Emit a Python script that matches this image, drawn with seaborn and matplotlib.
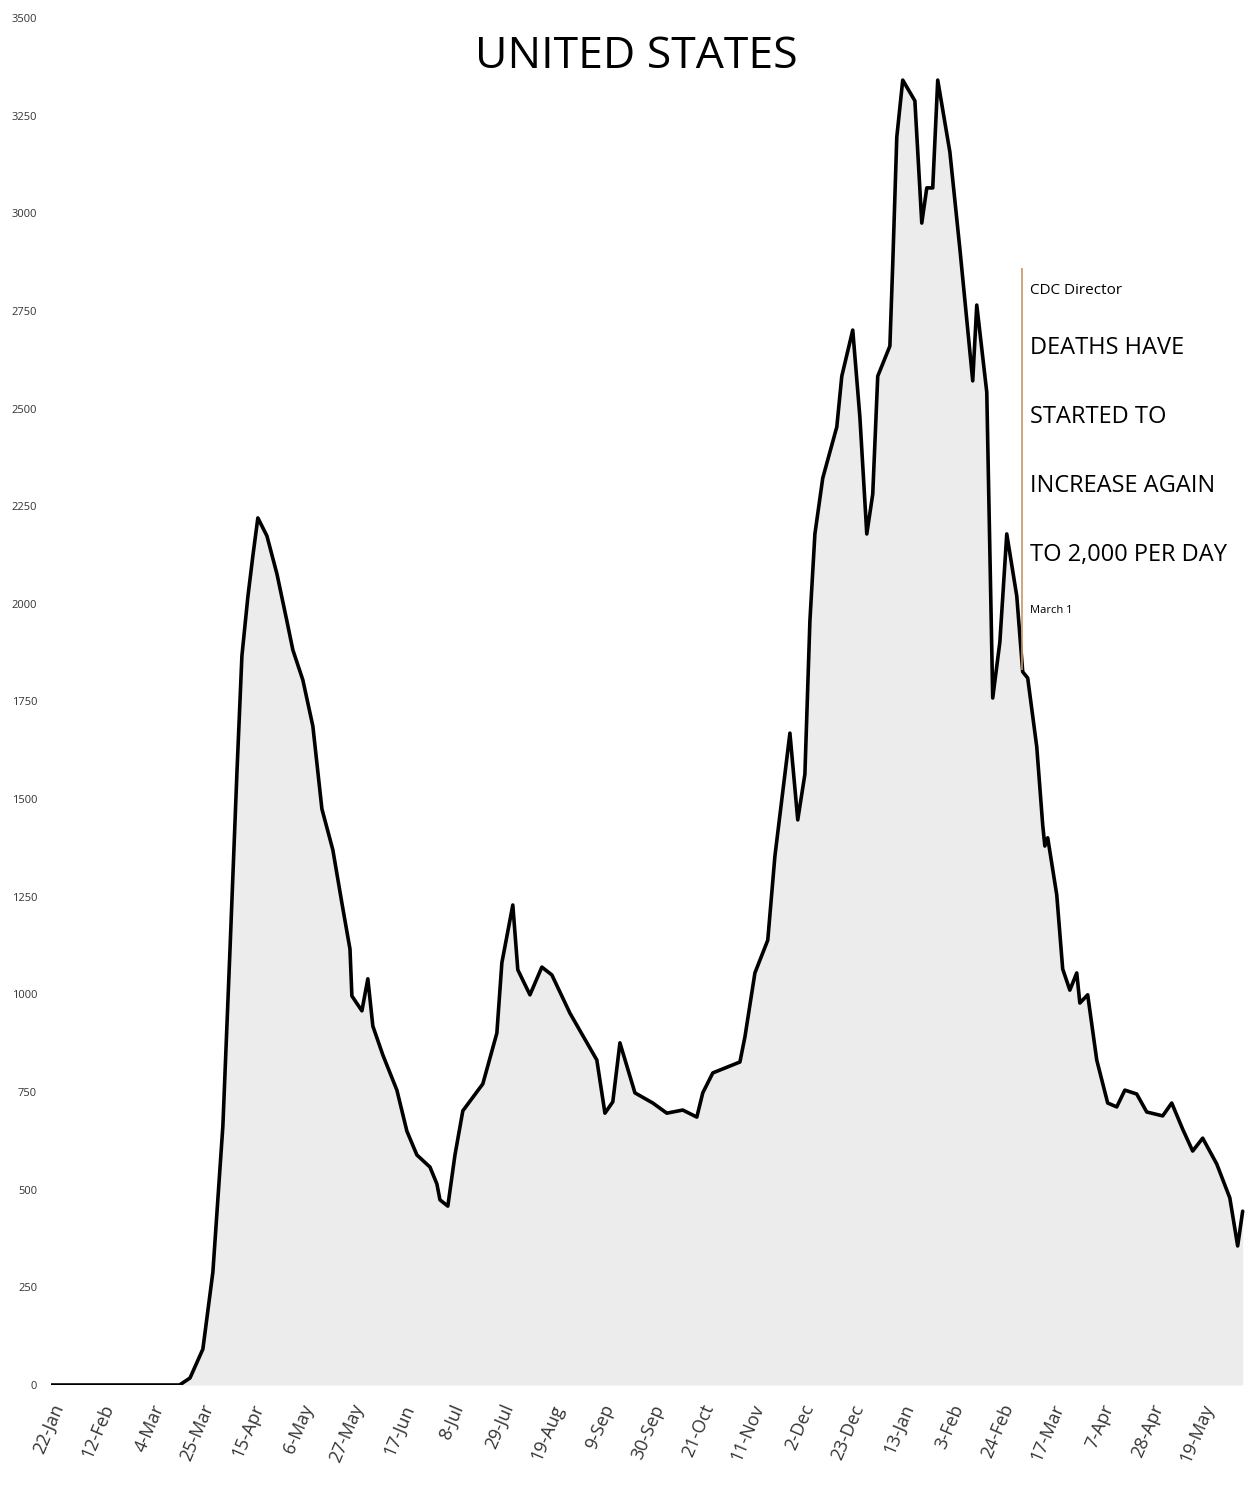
import matplotlib
matplotlib.use("Agg")
import matplotlib.pyplot as plt
import seaborn as sns
import pandas as pd

# daily deaths (7-day avg): days after 22-Jan-2020 / deaths
start = pd.Timestamp("2020-01-22")
day = [0, 50, 54, 58.4, 63.8, 68.0, 72.2, 75.2, 78.1, 80.2, 82.7, 84.8, 86.9,
       90.7, 94.9, 99.1, 101.6, 105.8, 110.0, 113.8, 118.4, 122.2, 125.6, 126.4,
       130.6, 133.1, 135.2, 139.4, 145.3, 149.5, 153.7, 159.2, 162.1, 163.4,
       166.7, 169.7, 173.0, 181.4, 187.3, 189.4, 194.0, 196.1, 201.2, 206.2,
       210.4, 218.0, 229.3, 232.7, 236.0, 239.0, 245.3, 252.8, 258.7, 265.4,
       271.3, 273.8, 278.0, 289.4, 291.5, 295.7, 301.1, 304.1, 310.4, 313.7,
       316.7, 318.8, 320.9, 324.2, 330.1, 332.2, 336.8, 339.8, 342.7, 345.2,
       347.3, 352.4, 353.6, 355.3, 357.8, 362.9, 365.8, 367.9, 370.4, 372.5,
       377.6, 381.8, 387.2, 388.9, 393.1, 395.6, 398.6, 401.5, 405.7, 408.2,
       410.3, 414.1, 416.6, 417.5, 418.7, 422.5, 425.0, 428.0, 430.9, 432.2,
       435.5, 439.3, 443.9, 447.7, 451.1, 456.1, 460.3, 467.0, 470.8, 475.4,
       479.6, 483.8, 489.7, 495.2, 498.5, 500.6]
deaths = [0, 0, 0, 18, 92, 289, 663, 1116, 1567, 1867, 2018, 2123, 2220,
          2174, 2077, 1956, 1882, 1805, 1687, 1475, 1370, 1234, 1116, 996,
          958, 1040, 919, 845, 755, 650, 589, 558, 515, 474,
          458, 589, 702, 771, 901, 1081, 1229, 1063, 999, 1070,
          1050, 952, 832, 696, 725, 876, 748, 722, 696, 704,
          686, 748, 799, 827, 891, 1055, 1139, 1354, 1669, 1447,
          1564, 1956, 2179, 2322, 2453, 2583, 2701, 2478, 2179, 2281,
          2583, 2660, 2870, 3195, 3341, 3288, 2975, 3065, 3065, 3341,
          3157, 2909, 2571, 2765, 2542, 1759, 1902, 2179, 2020, 1826,
          1810, 1634, 1434, 1380, 1401, 1255, 1065, 1011, 1055, 978,
          999, 832, 722, 712, 755, 745, 699, 689, 722, 655,
          599, 632, 566, 479, 356, 445]

tick_labels = ["22-Jan", "12-Feb", "4-Mar", "25-Mar", "15-Apr", "6-May",
               "27-May", "17-Jun", "8-Jul", "29-Jul", "19-Aug", "9-Sep",
               "30-Sep", "21-Oct", "11-Nov", "2-Dec", "23-Dec", "13-Jan",
               "3-Feb", "24-Feb", "17-Mar", "7-Apr", "28-Apr", "19-May"]
y_ticks = list(range(0, 3501, 250))

note_date = pd.Timestamp("2021-03-05")
note_lines = ["DEATHS HAVE", "STARTED TO", "INCREASE AGAIN", "TO 2,000 PER DAY"]

df = pd.DataFrame({"date": start + pd.to_timedelta(day, unit="D"), "deaths": deaths})
tick_dates = pd.date_range(start, periods=len(tick_labels), freq="21D")

sns.set_style("white")
plt.rcParams["font.family"] = ["Open Sans", "DejaVu Sans"]
plt.rcParams["text.color"] = "black"

W, H = 1248, 1510
fig = plt.figure(figsize=(W / 100, H / 100), dpi=100)
ax = fig.add_axes([51 / W, (H - 1385) / H, (1246 - 51) / W, (1385 - 18) / H])

ax.fill_between(df["date"], 0, df["deaths"], color="#ececec", lw=0)
sns.lineplot(data=df, x="date", y="deaths", ax=ax, color="black", linewidth=2.6)

# CDC note marker
ax.vlines(note_date, 1830, 2860, color="#c8956a", lw=1.2)

ax.set_xlim(start, start + pd.Timedelta(days=502))
ax.set_ylim(0, 3500)
ax.set_yticks(y_ticks)
ax.set_yticklabels([str(v) for v in y_ticks], fontsize=8, color="#333333")
ax.set_xticks(tick_dates)
ax.set_xticklabels(tick_labels, rotation=67, ha="right", rotation_mode="anchor",
                   fontsize=13, color="#333333")
ax.tick_params(axis="y", length=0, pad=10)
ax.tick_params(axis="x", length=0, pad=12)
ax.set_xlabel("")
ax.set_ylabel("")
sns.despine(ax=ax, left=True, bottom=True)

fig.text(636 / W, 1 - 57 / H, "UNITED STATES", ha="center", va="center", fontsize=32)

fig.text(1030 / W, 1 - 290 / H, "CDC Director", ha="left", va="center", fontsize=11)
for i, line in enumerate(note_lines):
    fig.text(1030 / W, 1 - (348 + 69 * i) / H, line, ha="left", va="center", fontsize=17)
fig.text(1030 / W, 1 - 610 / H, "March 1", ha="left", va="center", fontsize=8)

fig.savefig("out.png", dpi=100, facecolor="white")
